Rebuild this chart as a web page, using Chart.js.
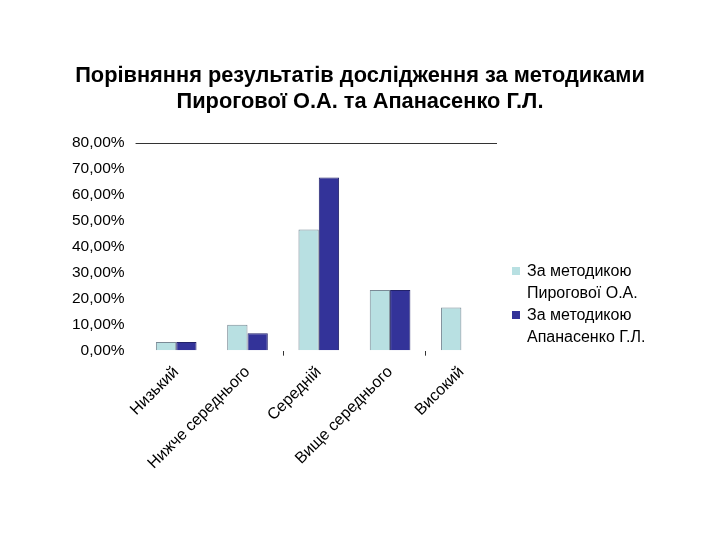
<!DOCTYPE html>
<html>
<head>
<meta charset="utf-8">
<script src="https://cdn.jsdelivr.net/npm/chart.js@4"></script>
<style>
    body { margin: 0; background: #fff; font-family: "Liberation Sans", Arial, sans-serif; }
    #wrap { position: relative; width: 720px; height: 540px; }
    #title {
        position: absolute; left: 0; top: 62px; width: 720px;
        text-align: center; font-weight: bold; font-size: 21.8px; line-height: 26px; color: #000;
    }
    #legend { position: absolute; left: 512px; top: 260px; font-size: 16px; line-height: 22px; color: #000; }
    .item { position: relative; padding-left: 15px; }
    .box { position: absolute; left: 0; top: 7px; width: 8px; height: 8px; }
</style>
</head>
<body>
<div id="wrap">
    <canvas id="chart" width="720" height="540"></canvas>
    <div id="title">Порівняння результатів дослідження за методиками<br>Пирогової О.А. та Апанасенко Г.Л.</div>
    <div id="legend"></div>
</div>
<script>
const categories = ["Низький", "Нижче середнього", "Середній", "Вище середнього", "Високий"];
const pyrogova = [3.33, 10.0, 46.67, 23.33, 16.67];
const apanasenko = [3.33, 6.67, 66.67, 23.33, 0];
const yTicks = [0, 10, 20, 30, 40, 50, 60, 70, 80];
const seriesNames = [["За методикою", "Пирогової О.А."], ["За методикою", "Апанасенко Г.Л."]];
const seriesColors = ["#b8e0e2", "#333399"];
const seriesBorders = ["#7a8a96", "#22226a"];

function percent(v) {
    return v.toFixed(2).replace('.', ',') + '%';
}

const ctx = document.getElementById('chart').getContext('2d');
const chart = new Chart(ctx, {
    type: 'bar',
    data: {
        labels: categories,
        datasets: [pyrogova, apanasenko].map((values, i) => ({
            label: seriesNames[i].join(' '),
            data: values,
            backgroundColor: seriesColors[i],
            borderColor: seriesBorders[i],
            borderWidth: 1,
            categoryPercentage: 0.57,
            barPercentage: 1.0
        }))
    },
    options: {
        responsive: false,
        animation: false,
        devicePixelRatio: 1,
        layout: { padding: { left: 61, right: 223, top: 143, bottom: 60 } },
        plugins: {
            legend: { display: false },
            title: { display: false },
            tooltip: { enabled: false }
        },
        scales: {
            x: {
                border: { display: false },
                grid: {
                    offset: true,
                    drawOnChartArea: false,
                    tickLength: 5,
                    tickColor: c => (c.index === 2 || c.index === 4) ? '#333' : 'rgba(0,0,0,0)'
                },
                ticks: {
                    color: '#000',
                    font: { family: 'Liberation Sans', size: 16 },
                    minRotation: 45,
                    maxRotation: 45,
                    padding: 7
                }
            },
            y: {
                min: 0,
                max: 80,
                afterBuildTicks: axis => { axis.ticks = yTicks.map(v => ({ value: v })); },
                border: { display: false },
                grid: {
                    color: c => c.tick && c.tick.value === 80 ? '#333' : 'rgba(0,0,0,0)',
                    tickColor: c => c.tick && c.tick.value === 80 ? '#333' : 'rgba(0,0,0,0)',
                    tickLength: 5
                },
                ticks: {
                    color: '#000',
                    font: { family: 'Liberation Sans', size: 15.5 },
                    padding: 11,
                    callback: v => percent(v)
                }
            }
        }
    }
});

const legend = document.getElementById('legend');
seriesNames.forEach((lines, i) => {
    const item = document.createElement('div');
    item.className = 'item';
    const box = document.createElement('span');
    box.className = 'box';
    box.style.background = seriesColors[i];
    item.appendChild(box);
    item.appendChild(document.createTextNode(lines[0]));
    item.appendChild(document.createElement('br'));
    item.appendChild(document.createTextNode(lines[1]));
    legend.appendChild(item);
});
</script>
</body>
</html>
